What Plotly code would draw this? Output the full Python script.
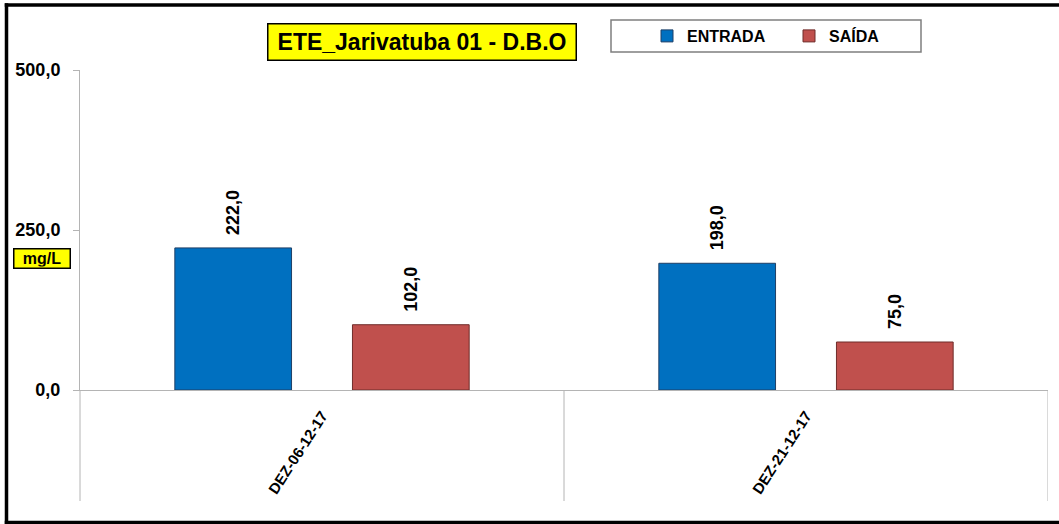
import plotly.graph_objects as go

categories = ["DEZ-06-12-17", "DEZ-21-12-17"]
entrada = [222.0, 198.0]
saida = [102.0, 75.0]
y_ticks = [0, 250, 500]

FONT = "Liberation Sans, Arial, sans-serif"
NB = "\u00a0\u00a0"

fig = go.Figure()
fig.add_trace(go.Bar(
    name="ENTRADA", x=categories, y=entrada,
    marker=dict(color="#0070C0", line=dict(color="#1F3F66", width=1)),
    texttemplate=NB + "%{y:.1f}", textposition="outside", textangle=-90,
    textfont=dict(family=FONT, size=18, color="black", weight="bold"),
    cliponaxis=False,
))
fig.add_trace(go.Bar(
    name="SAÍDA", x=categories, y=saida,
    marker=dict(color="#C0504D", line=dict(color="#6E2C2A", width=1)),
    texttemplate=NB + "%{y:.1f}", textposition="outside", textangle=-90,
    textfont=dict(family=FONT, size=18, color="black", weight="bold"),
    cliponaxis=False,
))

L, R, T, B = 80, 11, 70, 134
W, H = 1059, 524
PW, PH = W - L - R, H - T - B

def px(x):
    return (x - L) / PW

def py(y):
    return (T + PH - y) / PH

bottom = py(501)
gray = "#B4B4B4"
frame = dict(color="black", width=3.5)

shapes = [
    # y-axis extension below zero
    dict(type="line", xref="paper", yref="paper", x0=0, x1=0, y0=bottom, y1=0,
         line=dict(color=gray, width=1)),
    # category separators below zero
    dict(type="line", xref="x", yref="paper", x0=0.5, x1=0.5, y0=bottom, y1=0,
         line=dict(color=gray, width=1)),
    dict(type="line", xref="x", yref="paper", x0=1.5, x1=1.5, y0=bottom, y1=0,
         line=dict(color=gray, width=1)),
    # legend frame
    dict(type="rect", xref="paper", yref="paper", x0=px(611), x1=px(921), y0=py(52), y1=py(20),
         line=dict(color="#7F7F7F", width=1.5), fillcolor="rgba(0,0,0,0)"),
    # outer frame: top, left, bottom
    dict(type="line", xref="paper", yref="paper", x0=px(4.75), x1=px(1059), y0=py(5), y1=py(5), line=frame),
    dict(type="line", xref="paper", yref="paper", x0=px(6.5), x1=px(6.5), y0=py(3.25), y1=py(524.25), line=frame),
    dict(type="line", xref="paper", yref="paper", x0=px(4.75), x1=px(1059), y0=py(522.5), y1=py(522.5), line=frame),
]

annotations = [
    dict(text="<b>ETE_Jarivatuba 01 - D.B.O</b>", xref="paper", yref="paper",
         x=px(422), y=py(42), xanchor="center", yanchor="middle", showarrow=False,
         font=dict(family=FONT, size=23, color="black"),
         bgcolor="#FFFF00", bordercolor="black", borderwidth=1.5, borderpad=2,
         width=303, height=31),
    dict(text="<b>mg/L</b>", xref="paper", yref="paper",
         x=px(42), y=py(258), xanchor="center", yanchor="middle", showarrow=False,
         font=dict(family=FONT, size=16, color="black"),
         bgcolor="#FFFF00", bordercolor="black", borderwidth=1.5, borderpad=1,
         width=53, height=16),
]

fig.update_layout(
    width=W, height=H, template="none",
    margin=dict(l=L, r=R, t=T, b=B, autoexpand=False),
    paper_bgcolor="white", plot_bgcolor="white",
    separators=",.",
    barmode="group", bargap=0.266, bargroupgap=0.343,
    font=dict(family=FONT, color="black"),
    showlegend=True,
    legend=dict(orientation="h", x=px(647), y=py(36), xanchor="left", yanchor="middle",
                bgcolor="rgba(0,0,0,0)", borderwidth=0,
                font=dict(family=FONT, size=16, color="black", weight="bold"),
                entrywidth=97, entrywidthmode="pixels", itemwidth=30),
    xaxis=dict(range=[-0.5, 1.5], showgrid=False, zeroline=False,
               showline=True, linecolor=gray, linewidth=1,
               ticks="", tickangle=-57, automargin=False, ticklabelstandoff=10,
               tickfont=dict(family=FONT, size=15, color="black", weight="bold")),
    yaxis=dict(range=[0, 500], tickvals=y_ticks, tickformat=".1f",
               showgrid=False, zeroline=False,
               showline=True, linecolor=gray, linewidth=1,
               ticks="outside", ticklen=6, tickcolor=gray, automargin=False,
               ticklabelstandoff=9,
               tickfont=dict(family=FONT, size=18, color="black", weight="bold")),
    shapes=shapes, annotations=annotations,
)

fig.write_html("out.html", config={"displayModeBar": False},
               post_script="document.body.style.margin='0px';document.body.style.overflow='hidden';")
